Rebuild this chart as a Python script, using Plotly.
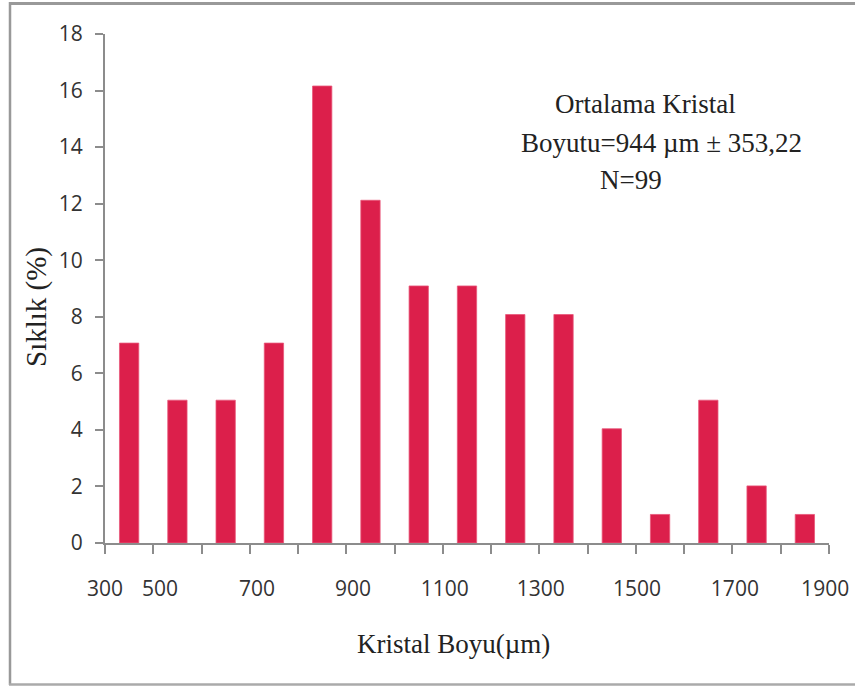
import plotly.graph_objects as go

# Data (percent frequency, N = 99)
bin_index = list(range(15))
frequency_pct = [7.07, 5.05, 5.05, 7.07, 16.16, 12.12, 9.09, 9.09, 8.08, 8.08, 4.04, 1.01, 5.05, 2.02, 1.01]
tick_labels = ["300", "500", "700", "900", "1100", "1300", "1500", "1700", "1900"]
y_ticks = list(range(0, 19, 2))
x_title = "Kristal Boyu(µm)"
y_title = "Sıklık (%)"

# layout constants (label placement as in the original figure)
tick_label_pos = [0, 1.14, 3.15, 5.14, 7.04, 9.03, 11.02, 13.05, 14.92]

W, H = 855, 686
L, R, T, B = 105, 26, 34, 143
pw, ph = W - L - R, H - T - B

def px(x):
    return (x - L) / pw

def py(y):
    return (H - B - y) / ph

fig = go.Figure()
fig.add_trace(go.Bar(
    x=[i + 0.5 for i in bin_index],
    y=frequency_pct,
    width=0.4,
    marker=dict(color="#DC1F4B", line=dict(color="#E8587A", width=0.8)),
    hoverinfo="y",
))

tickfont = dict(family="Liberation Sans Narrow, Arial Narrow, Open Sans, sans-serif", size=21, color="#333333")
serif = "Liberation Serif, Times New Roman, serif"

fig.update_layout(
    width=W, height=H,
    autosize=False,
    margin=dict(l=L, r=R, t=T, b=B, pad=0, autoexpand=False),
    paper_bgcolor="white", plot_bgcolor="white",
    showlegend=False,
    xaxis=dict(
        range=[0, 15], automargin=False,
        tickmode="array", tickvals=tick_label_pos, ticktext=tick_labels,
        ticks="", ticklabelstandoff=26,
        tickfont=tickfont,
        showgrid=False, zeroline=False,
        showline=True, linecolor="#8c8c8c", linewidth=2,
        minor=dict(tickmode="linear", tick0=0, dtick=1, ticks="outside",
                   ticklen=9, tickcolor="#8c8c8c", tickwidth=2, showgrid=False),
        fixedrange=True,
    ),
    yaxis=dict(
        range=[0, 18], automargin=False,
        tickmode="array", tickvals=y_ticks,
        ticks="outside", ticklen=8, tickcolor="#8c8c8c", tickwidth=2,
        ticklabelstandoff=8,
        tickfont=tickfont,
        showgrid=False, zeroline=False,
        showline=True, linecolor="#8c8c8c", linewidth=2,
        fixedrange=True,
    ),
    shapes=[
        dict(type="line", xref="paper", yref="paper", x0=px(9), x1=px(W + 5), y0=py(3.5), y1=py(3.5),
             line=dict(color="#999999", width=3)),
        dict(type="line", xref="paper", yref="paper", x0=px(10), x1=px(10), y0=py(2), y1=py(685),
             line=dict(color="#999999", width=2.5)),
        dict(type="line", xref="paper", yref="paper", x0=px(9), x1=px(W + 5), y0=py(684.5), y1=py(684.5),
             line=dict(color="#aaaaaa", width=2.5)),
    ],
    annotations=[
        dict(text=x_title, xref="paper", yref="paper", x=px(453), y=py(644),
             xanchor="center", yanchor="middle",
             showarrow=False, font=dict(family=serif, size=27, color="#222222")),
        dict(text=y_title, xref="paper", yref="paper", x=px(36), y=py(307),
             xanchor="center", yanchor="middle", textangle=-90,
             showarrow=False, font=dict(family=serif, size=29, color="#222222")),
        dict(text="Ortalama Kristal", xref="paper", yref="paper", x=px(645), y=py(104),
             xanchor="center", yanchor="middle",
             showarrow=False, font=dict(family=serif, size=27, color="#222222")),
        dict(text="Boyutu=944 µm ± 353,22", xref="paper", yref="paper", x=px(661), y=py(143),
             xanchor="center", yanchor="middle",
             showarrow=False, font=dict(family=serif, size=27, color="#222222")),
        dict(text="N=99", xref="paper", yref="paper", x=px(631), y=py(180),
             xanchor="center", yanchor="middle",
             showarrow=False, font=dict(family=serif, size=27, color="#222222")),
    ],
)

fig.write_html("out.html", config={"displayModeBar": False},
               post_script="document.body.style.margin='0';document.body.style.overflow='hidden';")
